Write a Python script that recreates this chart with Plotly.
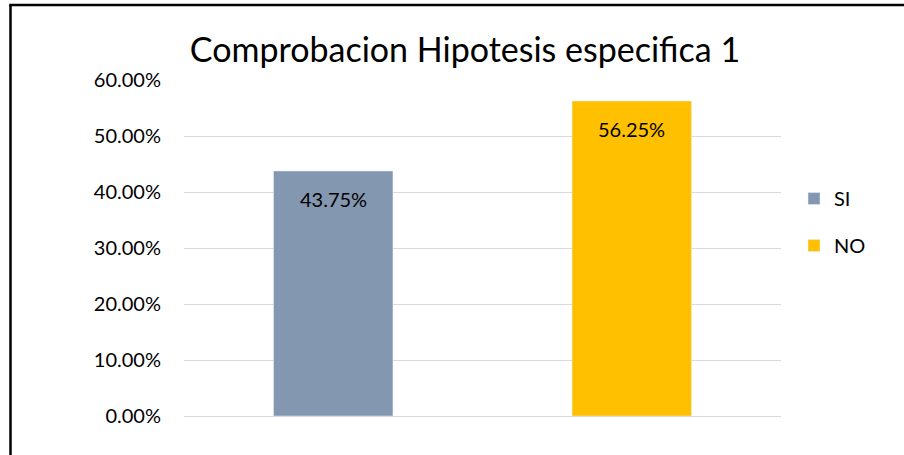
import plotly.graph_objects as go

categories = ["SI", "NO"]
values = [0.4375, 0.5625]
colors = ["#8497B0", "#FFC000"]
tick_vals = [0, 0.1, 0.2, 0.3, 0.4, 0.5, 0.6]
tick_text = ["0.00%", "10.00%", "20.00%", "30.00%", "40.00%", "50.00%", "60.00%"]
title = "Comprobacion Hipotesis especifica 1"

W, H = 904, 455
L, R, T, B = 184, 123, 80, 39
pw, ph = W - L - R, H - T - B
FONT = "Lato"

def px_to_paper_x(px):
    return (px - L) / pw

def px_to_paper_y(py):
    return (H - B - py) / ph

fig = go.Figure()
for cat, val, col in zip(categories, values, colors):
    fig.add_trace(go.Bar(
        x=[cat], y=[val], name=cat, marker_color=col, width=0.4,
        legendgroup=cat, offsetgroup="a",
    ))
    fig.add_annotation(x=cat, y=val, text=f"{val*100:.2f}%", showarrow=False,
                       yshift=-28, yanchor="middle",
                       font=dict(size=20, color="#000000", family=FONT))

fig.update_layout(
    width=W, height=H,
    margin=dict(l=L, r=R, t=T, b=B),
    paper_bgcolor="white", plot_bgcolor="white",
    font=dict(family=FONT, size=20, color="#000000"),
    title=dict(text=title, x=px_to_paper_x(465), xref="paper", xanchor="center",
               y=1 - 50 / H, yanchor="middle", yref="container",
               font=dict(size=34, family=FONT, color="#000000")),
    barmode="group",
    showlegend=True,
    legend=dict(x=px_to_paper_x(794), y=px_to_paper_y(179), xanchor="left", yanchor="top",
                font=dict(size=20), tracegroupgap=18, itemwidth=30,
                bgcolor="rgba(0,0,0,0)"),
    xaxis=dict(showticklabels=False, showgrid=False, zeroline=False, showline=False,
               categoryorder="array", categoryarray=categories),
    yaxis=dict(range=[0, 0.6], tickvals=tick_vals, ticktext=tick_text, showgrid=True,
               gridcolor="#D9D9D9", gridwidth=1, zeroline=True, zerolinecolor="#D9D9D9",
               zerolinewidth=1, ticks="", ticklabelstandoff=22, showline=False),
)

fig.add_shape(type="line", xref="paper", yref="paper",
              x0=px_to_paper_x(10.5), x1=px_to_paper_x(10.5),
              y0=px_to_paper_y(5), y1=px_to_paper_y(456),
              line=dict(color="black", width=2.5), layer="above")
fig.add_shape(type="line", xref="paper", yref="paper",
              x0=px_to_paper_x(9.3), x1=px_to_paper_x(904),
              y0=px_to_paper_y(5), y1=px_to_paper_y(5),
              line=dict(color="black", width=2.5), layer="above")

fig.write_html("out.html", config={"displayModeBar": False},
               post_script="document.body.style.margin='0';document.body.style.overflow='hidden';")
